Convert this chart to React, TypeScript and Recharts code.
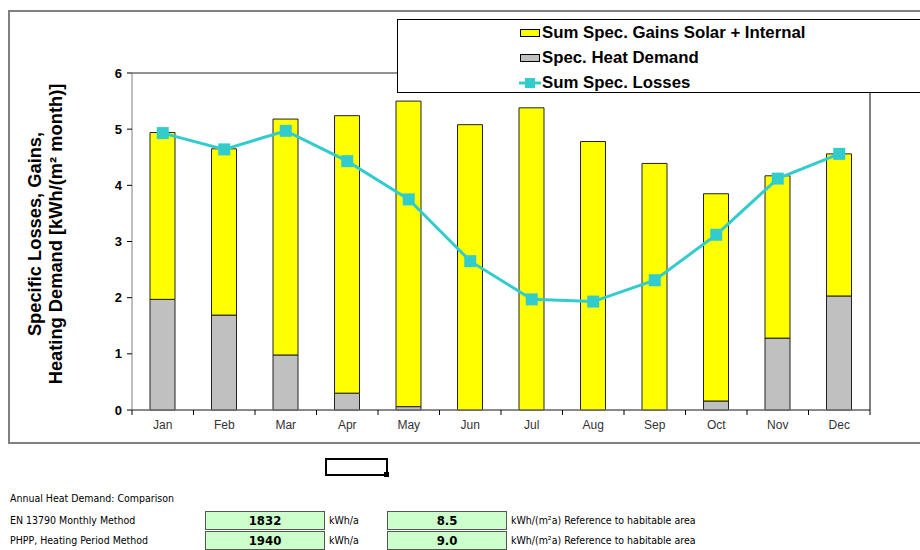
import { ComposedChart, Bar, Line, XAxis, YAxis, CartesianGrid, Legend } from 'recharts';

const months = ['Jan', 'Feb', 'Mar', 'Apr', 'May', 'Jun', 'Jul', 'Aug', 'Sep', 'Oct', 'Nov', 'Dec'];
const heatDemand = [1.97, 1.69, 0.98, 0.3, 0.06, 0, 0, 0, 0, 0.16, 1.28, 2.03];
const gains = [2.97, 2.96, 4.2, 4.94, 5.44, 5.08, 5.38, 4.78, 4.39, 3.69, 2.89, 2.53];
const losses = [4.93, 4.64, 4.97, 4.43, 3.75, 2.65, 1.97, 1.93, 2.31, 3.12, 4.12, 4.56];
const yTicks = [0, 1, 2, 3, 4, 5, 6];

const annualRows = [
  { label: 'EN 13790 Monthly Method', kwh: '1832', spec: '8.5' },
  { label: 'PHPP, Heating Period Method', kwh: '1940', spec: '9.0' },
];

const data = months.map((m, i) => ({
  month: m,
  heat: heatDemand[i],
  gains: gains[i],
  losses: losses[i],
}));

const FONT = '"Liberation Sans", Arial, sans-serif';
const NARROW = '"DejaVu Sans Condensed", "Liberation Sans", Arial, sans-serif';
const TEAL = '#33cccc';

function SquareDot(props: any) {
  const { cx, cy } = props;
  if (cx == null || cy == null) return null;
  return <rect x={cx - 6} y={cy - 6} width={12} height={12} fill={TEAL} />;
}

function MonthTick(props: any) {
  const { x, y, payload, index, visibleTicksCount } = props;
  const half = payload?.offset ?? 30.75;
  return (
    <g>
      <line x1={x - half} y1={y - 8} x2={x - half} y2={y - 3} stroke="#000" />
      {index === visibleTicksCount - 1 && (
        <line x1={x + half} y1={y - 8} x2={x + half} y2={y - 3} stroke="#000" />
      )}
      <text x={x} y={y + 11} textAnchor="middle" fontSize={12} fill="#333" fontFamily={FONT}>
        {payload.value}
      </text>
    </g>
  );
}

function YLabel() {
  return (
    <text
      transform="translate(44,234) rotate(-90)"
      textAnchor="middle"
      fontSize={18.3}
      fontWeight="bold"
      fill="#000"
      fontFamily={FONT}
    >
      <tspan x={0} dy={-3}>Specific Losses, Gains,</tspan>
      <tspan x={0} dy={21}>Heating Demand [kWh/(m² month)]</tspan>
    </text>
  );
}

function LegendBox() {
  const item = (swatch: any, text: string) => (
    <div style={{ display: 'flex', alignItems: 'center', height: 25 }}>
      <svg width={22} height={14} style={{ marginRight: 1 }}>{swatch}</svg>
      <span>{text}</span>
    </div>
  );
  return (
    <div
      style={{
        width: 520,
        height: 72,
        border: '1px solid #000',
        background: '#fff',
        fontFamily: FONT,
        fontWeight: 'bold',
        fontSize: 16.8,
        color: '#000',
        paddingLeft: 121,
        paddingTop: 0,
        boxSizing: 'content-box',
      }}
    >
      {item(<rect x={1.5} y={3.5} width={19} height={7} fill="#ffff00" stroke="#000" />, 'Sum Spec. Gains Solar + Internal')}
      {item(<rect x={1.5} y={3.5} width={19} height={7} fill="#c0c0c0" stroke="#000" />, 'Spec. Heat Demand')}
      {item(
        <g>
          <line x1={0} y1={7} x2={22} y2={7} stroke={TEAL} strokeWidth={3} />
          <rect x={6} y={2} width={10} height={10} fill={TEAL} />
        </g>,
        'Sum Spec. Losses'
      )}
    </div>
  );
}

const greenBox = {
  position: 'absolute' as const,
  width: 118,
  height: 17,
  background: '#ccffcc',
  border: '1px solid #555',
  fontFamily: NARROW,
  fontWeight: 'bold' as const,
  fontSize: 13,
  textAlign: 'center' as const,
  lineHeight: '17px',
};

const small = { position: 'absolute' as const, fontFamily: NARROW, fontSize: 10.5, color: '#000' };

export default function App() {
  return (
    <div style={{ position: 'absolute', left: 0, top: 0, width: 920, height: 550, background: '#fff' }}>
      <div
        style={{
          position: 'absolute',
          left: 8,
          top: 10,
          width: 930,
          height: 430,
          border: '2px solid #808080',
        }}
      />
      <div style={{ position: 'absolute', left: 0, top: 0 }}>
        <ComposedChart
          width={920}
          height={450}
          data={data}
          margin={{ top: 73, right: 0, bottom: 10, left: 0 }}
          barCategoryGap="0%"
        >
          <CartesianGrid horizontal vertical={false} stroke="#000" strokeOpacity={0.85} />
          <XAxis
            dataKey="month"
            height={30}
            axisLine={{ stroke: '#808080' }}
            tickLine={false}
            tick={<MonthTick />}
            interval={0}
          />
          <YAxis
            yAxisId="l"
            width={132}
            domain={[0, 6]}
            ticks={yTicks}
            axisLine={{ stroke: '#808080' }}
            tickLine={{ stroke: '#000' }}
            tickSize={5}
            tickMargin={5}
            tick={{ fontSize: 13, fontWeight: 'bold', fill: '#000', fontFamily: FONT }}
            label={<YLabel />}
          />
          <YAxis
            yAxisId="r"
            orientation="right"
            width={50}
            domain={[0, 6]}
            ticks={yTicks}
            axisLine={{ stroke: '#000' }}
            tickLine={false}
            tick={false}
          />
          <Bar yAxisId="l" dataKey="heat" stackId="a" fill="#c0c0c0" stroke="#222" barSize={25} isAnimationActive={false} />
          <Bar yAxisId="l" dataKey="gains" stackId="a" fill="#ffff00" stroke="#222" barSize={25} isAnimationActive={false} />
          <Line
            yAxisId="l"
            dataKey="losses"
            stroke={TEAL}
            strokeWidth={3}
            dot={<SquareDot />}
            activeDot={false}
            isAnimationActive={false}
          />
          <Legend
            layout="vertical"
            align="center"
            verticalAlign="middle"
            content={<LegendBox />}
            wrapperStyle={{ left: 397, top: 19, width: 650, height: 74 }}
          />
        </ComposedChart>
      </div>

      <div
        style={{
          position: 'absolute',
          left: 325,
          top: 458,
          width: 59,
          height: 14,
          border: '2px solid #000',
        }}
      />
      <div style={{ position: 'absolute', left: 384, top: 472, width: 5, height: 5, background: '#000' }} />

      <div style={{ ...small, left: 10, top: 492 }}>Annual Heat Demand: Comparison</div>
      {annualRows.map((r, i) => {
        const top = 511 + i * 20;
        return (
          <div key={r.label}>
            <div style={{ ...small, left: 10, top: top + 3 }}>{r.label}</div>
            <div style={{ ...greenBox, left: 205, top }}>{r.kwh}</div>
            <div style={{ ...small, left: 329, top: top + 3 }}>kWh/a</div>
            <div style={{ ...greenBox, left: 387, top }}>{r.spec}</div>
            <div style={{ ...small, left: 511, top: top + 3 }}>kWh/(m²a) Reference to habitable area</div>
          </div>
        );
      })}
    </div>
  );
}
